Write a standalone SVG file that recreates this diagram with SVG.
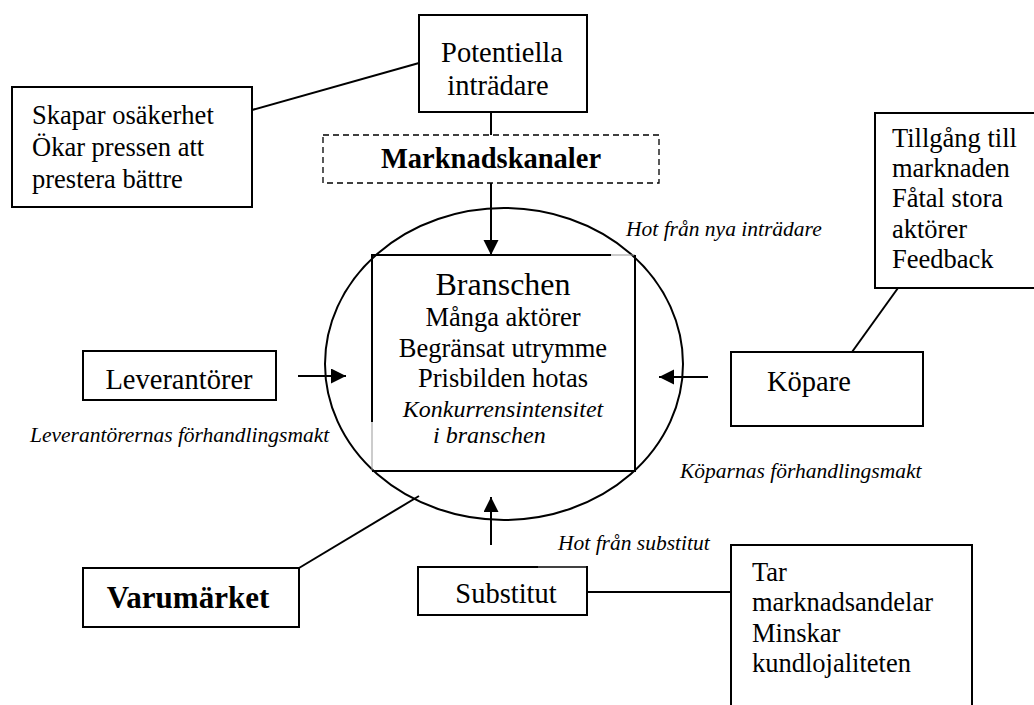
<svg xmlns="http://www.w3.org/2000/svg" width="1034" height="705" viewBox="0 0 1034 705" font-family="'Liberation Serif', 'Times New Roman', serif">
<style>
  text { font-family: "Liberation Serif", "Times New Roman", serif; fill: #000; }
  .box { fill: #fff; stroke: #000; stroke-width: 2; }
  .ln { stroke: #000; stroke-width: 2; fill: none; }
  .thin { stroke: #999; stroke-width: 1; fill: none; }
  .lbl { font-size: 28.5px; }
  .note { font-size: 26.5px; }
  .inner { font-size: 26.5px; }
  .it { font-size: 21.5px; font-style: italic; }
</style>
<defs>
  <marker id="arr" markerUnits="userSpaceOnUse" markerWidth="16" markerHeight="16" refX="15" refY="7.5" orient="auto">
    <path d="M0,0 L15,7.5 L0,15 z" fill="#000"/>
  </marker>
</defs>
<rect width="1034" height="705" fill="#fff"/>

<g id="ellipse-branschen">
  <ellipse cx="504" cy="364" rx="179" ry="156" class="ln"/>
</g>

<g id="connectors">
  <line x1="252" y1="110" x2="419" y2="63" class="ln"/>
  <line x1="491" y1="112" x2="491" y2="135" class="ln"/>
  <line x1="491" y1="183" x2="491" y2="255" class="ln" marker-end="url(#arr)"/>
  <line x1="298" y1="376" x2="346" y2="376" class="ln" marker-end="url(#arr)"/>
  <line x1="708" y1="377" x2="659" y2="377" class="ln" marker-end="url(#arr)"/>
  <line x1="852" y1="352" x2="898" y2="288" class="ln"/>
  <line x1="299" y1="568" x2="419" y2="496" class="ln"/>
  <line x1="491" y1="545" x2="491" y2="497" class="ln" marker-end="url(#arr)"/>
  <line x1="587" y1="592" x2="731" y2="592" class="ln"/>
</g>

<g id="potentiella">
  <rect x="419" y="15" width="168" height="97" class="box"/>
  <text x="502" y="62" class="lbl" text-anchor="middle">Potentiella</text>
  <text x="498" y="95" class="lbl" text-anchor="middle">inträdare</text>
</g>

<g id="skapar">
  <rect x="12" y="87" width="240" height="120" class="box"/>
  <text x="32" y="124" class="note">Skapar osäkerhet</text>
  <text x="32" y="156" class="note">Ökar pressen att</text>
  <text x="32" y="188" class="note">prestera bättre</text>
</g>

<g id="marknadskanaler">
  <rect x="323" y="135" width="336" height="48" fill="#fff" stroke="#000" stroke-width="1.3" stroke-dasharray="6 4"/>
  <text x="491" y="168" font-size="28.5" font-weight="bold" text-anchor="middle">Marknadskanaler</text>
</g>

<g id="branschen">
  <line x1="372" y1="255" x2="611" y2="255" class="ln"/>
  <line x1="611" y1="255" x2="635" y2="255" class="thin"/>
  <line x1="372" y1="254" x2="372" y2="422" class="ln"/>
  <line x1="372" y1="422" x2="372" y2="471" class="thin"/>
  <line x1="635" y1="255" x2="635" y2="472" class="ln"/>
  <line x1="372" y1="471" x2="636" y2="471" class="ln"/>
  <text x="503" y="295" font-size="32" text-anchor="middle">Branschen</text>
  <text x="503" y="326" class="inner" text-anchor="middle">Många aktörer</text>
  <text x="503" y="357" class="inner" text-anchor="middle">Begränsat utrymme</text>
  <text x="503" y="387" class="inner" text-anchor="middle">Prisbilden hotas</text>
  <text x="503" y="417" font-size="24" font-style="italic" text-anchor="middle">Konkurrensintensitet</text>
  <text x="433" y="443" font-size="24" font-style="italic">i branschen</text>
</g>

<g id="leverantorer">
  <rect x="83" y="351" width="193" height="49" class="box"/>
  <text x="179" y="389" class="lbl" text-anchor="middle">Leverantörer</text>
</g>

<g id="kopare">
  <rect x="731" y="352" width="192" height="74" class="box"/>
  <text x="767" y="391" class="lbl">Köpare</text>
</g>

<g id="tillgang">
  <rect x="875" y="113" width="175" height="175" class="box"/>
  <text x="892" y="147" class="note">Tillgång till</text>
  <text x="892" y="177" class="note">marknaden</text>
  <text x="892" y="207" class="note">Fåtal stora</text>
  <text x="892" y="238" class="note">aktörer</text>
  <text x="892" y="268" class="note">Feedback</text>
</g>

<g id="varumarket">
  <rect x="83" y="568" width="216" height="59" class="box"/>
  <text x="188" y="608" font-size="31" font-weight="bold" text-anchor="middle">Varumärket</text>
</g>

<g id="substitut">
  <rect x="418" y="567" width="169" height="48" fill="#fff" stroke="none"/>
  <line x1="418" y1="567" x2="538" y2="567" class="ln"/>
  <line x1="538" y1="567" x2="587" y2="567" stroke="#000" stroke-width="1.3"/>
  <line x1="418" y1="566" x2="418" y2="616" class="ln"/>
  <line x1="587" y1="566" x2="587" y2="616" class="ln"/>
  <line x1="417" y1="615" x2="588" y2="615" class="ln"/>
  <text x="506" y="603" class="lbl" text-anchor="middle">Substitut</text>
</g>

<g id="tar">
  <rect x="731" y="545" width="241" height="180" class="box"/>
  <text x="752" y="581" class="note">Tar</text>
  <text x="752" y="611" class="note">marknadsandelar</text>
  <text x="752" y="642" class="note">Minskar</text>
  <text x="752" y="672" class="note">kundlojaliteten</text>
</g>

<g id="labels">
  <text x="626" y="236" class="it" font-size="22">Hot från nya inträdare</text>
  <text x="30" y="442" class="it">Leverantörernas förhandlingsmakt</text>
  <text x="680" y="478" class="it">Köparnas förhandlingsmakt</text>
  <text x="558" y="550" class="it">Hot från substitut</text>
</g>
</svg>
